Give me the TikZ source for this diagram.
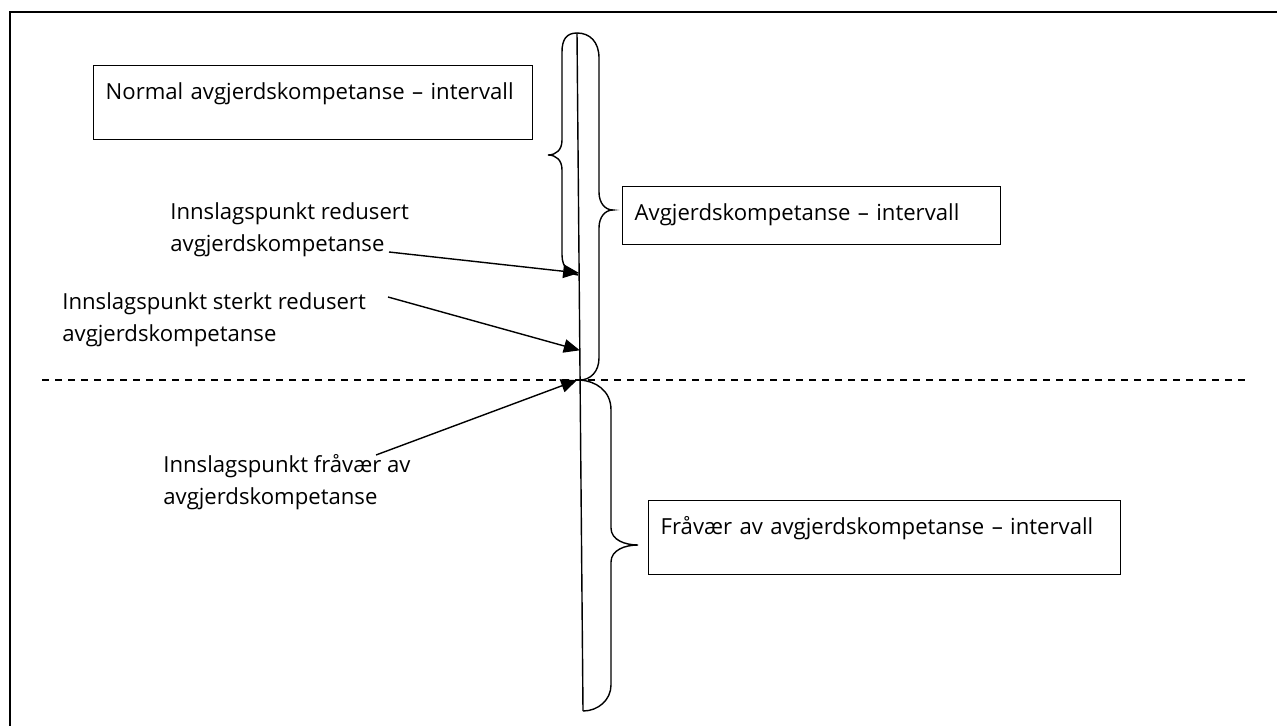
\documentclass[tikz,border=0pt]{standalone}
\usepackage{fontspec}
\setmainfont{Open Sans}
\usetikzlibrary{calc}
\usetikzlibrary{arrows.meta}
\usetikzlibrary{positioning}

\begin{document}
\begin{tikzpicture}[x=0.02cm, y=-0.02cm,
  every node/.style={font=\fontsize{12.6pt}{18pt}\selectfont, inner sep=0pt},
  IntervalBox/.style={draw, line width=0.8pt, anchor=north west, inner xsep=0.24cm,
    text height=0.68cm, align=left},
  PointLabel/.style={anchor=west, align=left},
  Pointer/.style={line width=0.8pt, -{Triangle[length=0.32cm, width=0.27cm]}},
  Brace/.style={line width=0.8pt}]

  \useasboundingbox (0,0) rectangle (1277,726);
  \draw[line width=1.7pt] (10,726) -- (10,12) -- (1277,12);

  % the axis
  \coordinate (LineTop) at (577,33);
  \coordinate (LineBot) at (583,711);
  \draw[Brace] (LineTop) -- (LineBot);
  \draw[line width=0.8pt, dash pattern=on 4pt off 3.4pt] (42,380) -- (1250,380);

  % braces
  \draw[Brace] (LineTop) .. controls (566,33) and (562,40) .. (562,52) -- (562,140)
    .. controls (562,150) and (556,155) .. (548,155)
    .. controls (556,155) and (562,160) .. (562,170) -- (562,255)
    .. controls (562,268) and (570,274) .. (578,275);
  \draw[Brace] (LineTop) .. controls (590,33) and (599,42) .. (599,58) -- (599,192)
    .. controls (599,203) and (605,210) .. (613,210)
    .. controls (605,210) and (599,217) .. (599,228) -- (599,358)
    .. controls (599,372) and (590,380) .. (580,380);
  \draw[Brace] (580,380) .. controls (595,381) and (611,390) .. (611,410) -- (611,528)
    .. controls (611,540) and (625,545) .. (638,545)
    .. controls (625,545) and (611,550) .. (611,562) -- (611,685)
    .. controls (611,700) and (598,711) .. (LineBot);

  % interval boxes
  \node[IntervalBox, text width=8.3cm, text depth=0.8cm] (NormalBox) at (93,65)
    {\mbox{Normal avgjerdskompetanse – intervall}};
  \node[IntervalBox, text width=7.08cm, text depth=0.48cm] (AvgBox) at (622,186)
    {\mbox{Avgjerdskompetanse – intervall}};
  \node[IntervalBox, text width=8.96cm, text depth=0.8cm] (FravBox) at (648,500)
    {\mbox{Fråvær av avgjerdskompetanse – intervall}};

  % pointers
  \node[PointLabel] (RedLabel) at (170,230) {Innslagspunkt redusert\\avgjerdskompetanse};
  \node[PointLabel] (SterkLabel) at (62,320) {Innslagspunkt sterkt redusert\\avgjerdskompetanse};
  \node[PointLabel] (FravLabel) at (163,482) {Innslagspunkt fråvær av\\avgjerdskompetanse};

  \coordinate (RedTail) at (389,252);
  \coordinate (SterkTail) at (388,297);
  \coordinate (FravTail) at (376,455);
  \coordinate (RedTip) at ($(LineTop)!0.354!(LineBot)$);
  \coordinate (SterkTip) at ($(LineTop)!0.468!(LineBot)$);
  \coordinate (FravTip) at ($(LineTop)!0.512!(LineBot)-(3,0)$);
  \draw[Pointer] (RedTail) -- (RedTip);
  \draw[Pointer] (SterkTail) -- (SterkTip);
  \draw[Pointer] (FravTail) -- (FravTip);
\end{tikzpicture}
\end{document}
